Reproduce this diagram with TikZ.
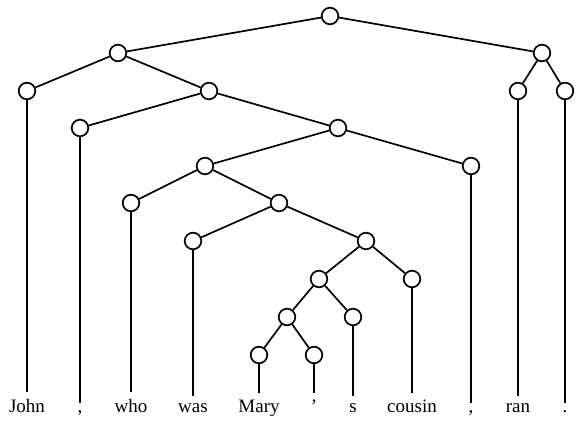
\documentclass[tikz,border=0pt]{standalone}
\usepackage{fontspec}
\setmainfont{Liberation Serif}
\usepackage{tikz}

\begin{document}
\begin{tikzpicture}[x=0.5pt,y=-0.5pt,line width=.85pt,
        knot/.style={draw,circle,fill=white,inner sep=0pt,minimum size=8.3pt},
        word/.style={anchor=base,inner sep=3pt,font=\fontsize{9.5}{11}\selectfont}]
                \useasboundingbox (0,0) rectangle (576,421);
                \node[knot] (root) at (330,16) {};
                \node[knot] (a) at (118,53) {};
                \node[knot] (b) at (542,53) {};
                \node[knot] (c) at (209,91) {};
                \node[knot] (d) at (338,128) {};
                \node[knot] (e) at (205,166) {};
                \node[knot] (f) at (279,203) {};
                \node[knot] (g) at (366,241) {};
                \node[knot] (h) at (319,279) {};
                \node[knot] (i) at (287,317) {};
                \foreach \n/\x/\y/\w in {john/27/91/John, comA/80/128/{,}, who/131/203/who,
                    was/193/241/was, mary/259/355/Mary, apos/314/355/', s/353/317/s,
                    cousin/412/279/cousin, comB/471/166/{,}, ran/518/91/ran, dot/565/91/.}{
                    \node[knot] (\n) at (\x,\y) {};
                    \node[word] (\n w) at (\x,412) {\w};
                    \draw (\n) -- (\n w);
                }
                \foreach \p/\q in {root/a, root/b, a/john, a/c, c/comA, c/d, d/e, d/comB,
                    e/who, e/f, f/was, f/g, g/h, g/cousin, h/i, h/s, i/mary, i/apos,
                    b/ran, b/dot}{
                    \draw (\p) -- (\q);
                }
            \end{tikzpicture}
\end{document}
